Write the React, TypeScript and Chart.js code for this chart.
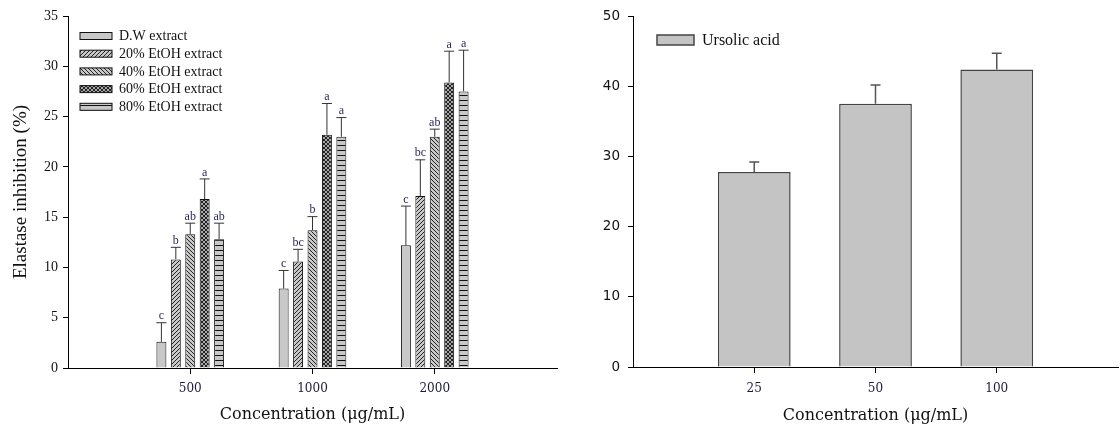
import React, { useEffect, useRef } from 'react';
import { Chart, registerables } from 'chart.js';
Chart.register(...registerables);

// ---------- Left chart data ----------
const leftCategories = ['500', '1000', '2000'];
const leftSeriesNames = ['D.W extract', '20% EtOH extract', '40% EtOH extract', '60% EtOH extract', '80% EtOH extract'];
const dwValues = [2.6, 7.9, 12.2];
const dwErrors = [1.9, 1.8, 3.9];
const dwLetters = ['c', 'c', 'c'];
const etoh20Values = [10.8, 10.6, 17.1];
const etoh20Errors = [1.2, 1.2, 3.6];
const etoh20Letters = ['b', 'bc', 'bc'];
const etoh40Values = [13.3, 13.7, 23.0];
const etoh40Errors = [1.1, 1.35, 0.75];
const etoh40Letters = ['ab', 'b', 'ab'];
const etoh60Values = [16.8, 23.2, 28.4];
const etoh60Errors = [2.0, 3.1, 3.1];
const etoh60Letters = ['a', 'a', 'a'];
const etoh80Values = [12.8, 23.0, 27.5];
const etoh80Errors = [1.6, 1.9, 4.1];
const etoh80Letters = ['ab', 'a', 'a'];
const leftYMax = 35;
const leftYStep = 5;

// ---------- Right chart data ----------
const rightCategories = ['25', '50', '100'];
const ursolicName = 'Ursolic acid';
const ursolicValues = [27.8, 37.5, 42.4];
const ursolicErrors = [1.4, 2.7, 2.3];
const rightYMax = 50;
const rightYStep = 10;

const xTitle = 'Concentration (μg/mL)';
const yTitle = 'Elastase inhibition (%)';

const SERIF = '"Liberation Serif", "Times New Roman", serif';
const KSERIF = '"DejaVu Serif", serif';

function pad<T>(arr: T[]): (T | null)[] {
  return [null, ...arr, null];
}

function makePattern(kind: string): any {
  const bg = '#c8c8c8';
  if (kind === 'solid') return bg;
  const c = document.createElement('canvas');
  const ctx = c.getContext('2d')!;
  if (kind === 'horiz') {
    c.width = 4; c.height = 5;
    ctx.fillStyle = bg; ctx.fillRect(0, 0, 4, 5);
    ctx.fillStyle = '#111'; ctx.fillRect(0, 0, 4, 1);
  } else {
    const s = 4;
    c.width = s; c.height = s;
    ctx.fillStyle = kind === 'cross' ? '#a8a8a8' : bg;
    ctx.fillRect(0, 0, s, s);
    ctx.strokeStyle = '#222';
    ctx.lineWidth = 1;
    const fwd = () => {
      ctx.beginPath();
      ctx.moveTo(-1, s + 1); ctx.lineTo(s + 1, -1);
      ctx.moveTo(-1, 1); ctx.lineTo(1, -1);
      ctx.moveTo(s - 1, s + 1); ctx.lineTo(s + 1, s - 1);
      ctx.stroke();
    };
    const back = () => {
      ctx.beginPath();
      ctx.moveTo(-1, -1); ctx.lineTo(s + 1, s + 1);
      ctx.moveTo(s - 1, -1); ctx.lineTo(s + 1, 1);
      ctx.moveTo(-1, s - 1); ctx.lineTo(1, s + 1);
      ctx.stroke();
    };
    if (kind === 'fwd') fwd();
    if (kind === 'back') back();
    if (kind === 'cross') { fwd(); back(); }
  }
  return ctx.createPattern(c, 'repeat');
}

const errorBarPlugin = {
  id: 'errorBars',
  afterDatasetsDraw(chart: any) {
    const ctx = chart.ctx;
    const yScale = chart.scales.y;
    chart.data.datasets.forEach((ds: any, i: number) => {
      const meta = chart.getDatasetMeta(i);
      meta.data.forEach((el: any, j: number) => {
        const v = ds.data[j];
        const e = ds.errors ? ds.errors[j] : null;
        if (v == null || e == null) return;
        const x = el.x;
        const y0 = yScale.getPixelForValue(v);
        const y1 = yScale.getPixelForValue(v + e);
        const half = ds.capHalf || 5;
        ctx.save();
        ctx.strokeStyle = ds.errColor || '#333';
        ctx.lineWidth = ds.errWidth || 1;
        ctx.beginPath();
        ctx.moveTo(x, y0); ctx.lineTo(x, y1);
        ctx.moveTo(x - half, y1); ctx.lineTo(x + half, y1);
        ctx.stroke();
        const letter = ds.letters ? ds.letters[j] : null;
        if (letter) {
          ctx.fillStyle = '#2a2a5a';
          ctx.font = `12px ${SERIF}`;
          ctx.textAlign = 'center';
          ctx.textBaseline = 'bottom';
          ctx.fillText(letter, x, y1 - 0.5);
        }
        ctx.restore();
      });
    });
  },
};

const legendPlugin = {
  id: 'customLegend',
  afterDraw(chart: any) {
    const o = chart.options.plugins.customLegend;
    if (!o) return;
    const ctx = chart.ctx;
    chart.data.datasets.forEach((ds: any, i: number) => {
      const cy = o.y + i * o.step;
      ctx.save();
      ctx.fillStyle = ds.backgroundColor;
      ctx.fillRect(o.x, cy - o.h / 2, o.w, o.h);
      ctx.strokeStyle = ds.borderColor;
      ctx.lineWidth = ds.borderWidth;
      ctx.strokeRect(o.x, cy - o.h / 2, o.w, o.h);
      ctx.fillStyle = '#111';
      ctx.font = o.font;
      ctx.textAlign = 'left';
      ctx.textBaseline = 'middle';
      ctx.fillText(ds.label, o.x + o.w + o.gap, cy + 0.5);
      ctx.restore();
    });
  },
};

function edgeColor(ctx: any) {
  return ctx.index === 0 || ctx.index === 4 ? 'rgba(0,0,0,0)' : '#000';
}

function LeftChart() {
  const ref = useRef<HTMLCanvasElement>(null);
  useEffect(() => {
    const values = [dwValues, etoh20Values, etoh40Values, etoh60Values, etoh80Values];
    const errors = [dwErrors, etoh20Errors, etoh40Errors, etoh60Errors, etoh80Errors];
    const letters = [dwLetters, etoh20Letters, etoh40Letters, etoh60Letters, etoh80Letters];
    const kinds = ['solid', 'fwd', 'back', 'cross', 'horiz'];
    const chart = new Chart(ref.current!, {
      type: 'bar',
      data: {
        labels: ['', ...leftCategories, ''],
        datasets: leftSeriesNames.map((name, i) => ({
          label: name,
          data: pad(values[i]),
          errors: pad(errors[i]),
          letters: pad(letters[i]),
          backgroundColor: makePattern(kinds[i]),
          borderColor: '#111',
          borderWidth: 1,
          categoryPercentage: 0.59,
          barPercentage: 0.69,
          errColor: '#333',
          errWidth: 1,
          capHalf: 5,
        })) as any,
      },
      options: {
        animation: false,
        responsive: false,
        devicePixelRatio: 1,
        layout: { padding: { top: 16, right: 3, left: 0, bottom: 0 } },
        plugins: {
          legend: { display: false },
          tooltip: { enabled: false },
          customLegend: { x: 80, y: 36, step: 17.7, w: 32, h: 7, gap: 7, font: `14px ${SERIF}` },
        } as any,
        scales: {
          x: {
            type: 'category',
            offset: false,
            grid: {
              display: true, offset: false, drawOnChartArea: false, drawTicks: true, tickLength: 6,
              color: edgeColor, tickColor: edgeColor, lineWidth: 1,
            },
            border: { display: true, color: '#000', width: 1 },
            ticks: { autoSkip: false, maxRotation: 0, padding: 8, color: '#1a1a3a', font: { family: KSERIF, size: 12 } },
            title: { display: true, text: xTitle, color: '#111', font: { family: KSERIF, size: 16 }, padding: { top: 0, bottom: 5 } },
            afterFit: (s: any) => { s.height = 61; s.paddingLeft = 0; s.paddingRight = 0; },
          },
          y: {
            min: 0,
            max: leftYMax,
            ticks: { stepSize: leftYStep, padding: 5, color: '#111', font: { family: SERIF, size: 14 } },
            grid: { display: true, drawOnChartArea: false, drawTicks: true, tickLength: 5, color: '#000' },
            border: { display: true, color: '#000', width: 1 },
            title: { display: true, text: yTitle, color: '#111', font: { family: SERIF, size: 19 }, padding: { top: 10, bottom: 0 } },
            afterFit: (s: any) => { s.width = 68; },
          },
        },
      } as any,
      plugins: [errorBarPlugin, legendPlugin],
    });
    return () => chart.destroy();
  }, []);
  return <canvas ref={ref} width={560} height={429} style={{ position: 'absolute', left: 0, top: 0, width: 560, height: 429 }} />;
}

function RightChart() {
  const ref = useRef<HTMLCanvasElement>(null);
  useEffect(() => {
    const chart = new Chart(ref.current!, {
      type: 'bar',
      data: {
        labels: ['', ...rightCategories, ''],
        datasets: [
          {
            label: ursolicName,
            data: pad(ursolicValues),
            errors: pad(ursolicErrors),
            backgroundColor: '#c4c4c4',
            borderColor: '#444',
            borderWidth: 1.5,
            categoryPercentage: 0.6,
            barPercentage: 1.0,
            errColor: '#555',
            errWidth: 1.5,
            capHalf: 5,
          },
        ] as any,
      },
      options: {
        animation: false,
        responsive: false,
        devicePixelRatio: 1,
        layout: { padding: { top: 15, right: 2, left: 0, bottom: 0 } },
        plugins: {
          legend: { display: false },
          tooltip: { enabled: false },
          customLegend: { x: 97, y: 40, step: 18, w: 37, h: 10, gap: 8, font: `16px ${SERIF}` },
        } as any,
        scales: {
          x: {
            type: 'category',
            offset: false,
            grid: {
              display: true, offset: false, drawOnChartArea: false, drawTicks: true, tickLength: 6,
              color: edgeColor, tickColor: edgeColor, lineWidth: 1,
            },
            border: { display: true, color: '#000', width: 1 },
            ticks: { autoSkip: false, maxRotation: 0, padding: 9, color: '#1a1a3a', font: { family: KSERIF, size: 12 } },
            title: { display: true, text: xTitle, color: '#111', font: { family: KSERIF, size: 16 }, padding: { top: 0, bottom: 4 } },
            afterFit: (s: any) => { s.height = 62; s.paddingLeft = 0; s.paddingRight = 0; },
          },
          y: {
            min: 0,
            max: rightYMax,
            ticks: { stepSize: rightYStep, padding: 8, color: '#111', font: { family: '"DejaVu Sans", sans-serif', size: 13.5 } },
            grid: { display: true, drawOnChartArea: false, drawTicks: true, tickLength: 5, color: '#000' },
            border: { display: true, color: '#000', width: 1 },
            afterFit: (s: any) => { s.width = 73; },
          },
        },
      } as any,
      plugins: [errorBarPlugin, legendPlugin],
    });
    return () => chart.destroy();
  }, []);
  return <canvas ref={ref} width={560} height={429} style={{ position: 'absolute', left: 560, top: 0, width: 560, height: 429 }} />;
}

export default function App() {
  return (
    <div style={{ position: 'absolute', left: 0, top: 0, width: 1120, height: 429, background: '#fff', overflow: 'hidden' }}>
      <LeftChart />
      <RightChart />
    </div>
  );
}
